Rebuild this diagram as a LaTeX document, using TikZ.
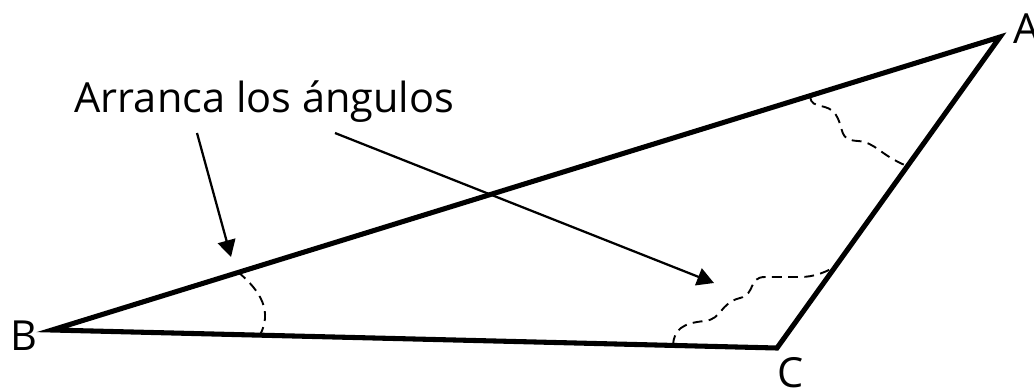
\documentclass[tikz,border=0pt]{standalone}
\usepackage{fontspec}
\setmainfont{Open Sans}
\usepackage{tikz}
\usetikzlibrary{arrows.meta}
\tikzstyle{side_line}=[line width=3.6pt, line join=miter, miter limit=20]
\tikzstyle{tear_line}=[line width=1.35pt, dash pattern=on 7pt off 4.5pt]
\tikzstyle{pointer}=[line width=1.6pt, -{Triangle[length=0.42cm, width=0.45cm]}]
\tikzstyle{vertex_label}=[inner sep=0pt, anchor=base west, font=\fontsize{29.5}{36}\selectfont]

\begin{document}
\begin{tikzpicture}[x=0.025cm, y=-0.025cm]
    \useasboundingbox (0,0) rectangle (1034,390);

    \coordinate (A) at (1000, 37);
    \coordinate (B) at (52, 330);
    \coordinate (C) at (777, 348);

    \node[vertex_label] at (1013, 43) (lA) {A};
    \node[vertex_label] at (10, 350) (lB) {B};
    \node[vertex_label] at (777, 387) (lC) {C};

    \node[inner sep=0pt, anchor=base, font=\fontsize{29.5}{36}\selectfont] at (264.5, 112) (title) {Arranca los ángulos};

    % torn edges of the three corners
    \draw[tear_line] (238, 272) .. controls (262, 292) and (272, 312) .. (260, 335);
    \draw[tear_line] (810, 97) .. controls (812, 110) and (828, 102) .. (836, 115)
        .. controls (845, 130) and (838, 140) .. (858, 141)
        .. controls (875, 142) and (880, 155) .. (907, 166);
    \draw[tear_line] (673, 345) .. controls (674, 330) and (682, 323) .. (705, 321)
        .. controls (722, 319) and (720, 303) .. (740, 298)
        .. controls (756, 294) and (748, 277) .. (765, 277) -- (800, 277)
        .. controls (815, 277) and (825, 272) .. (835, 267);

    \draw[side_line] (A) -- (B) -- (C) -- cycle;

    \coordinate (p1) at (197, 133);
    \coordinate (p2) at (335, 133);
    \coordinate (q1) at (231, 257);
    \coordinate (q2) at (714, 283);
    \draw[pointer] (p1) -- (q1);
    \draw[pointer] (p2) -- (q2);
\end{tikzpicture}
\end{document}
